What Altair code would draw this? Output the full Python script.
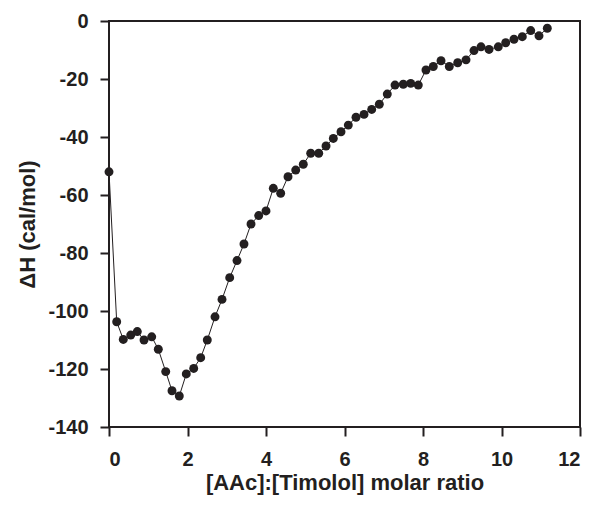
import altair as alt
import pandas as pd

ratio = [0.0, 0.196, 0.364, 0.553, 0.721, 0.892, 1.088, 1.256, 1.445, 1.605,
         1.791, 1.969, 2.158, 2.336, 2.504, 2.701, 2.879, 3.075, 3.261, 3.439,
         3.618, 3.814, 4.0, 4.186, 4.374, 4.561, 4.757, 4.950, 5.139, 5.343,
         5.529, 5.715, 5.911, 6.097, 6.293, 6.497, 6.693, 6.887, 7.090, 7.287,
         7.498, 7.687, 7.880, 8.076, 8.262, 8.459, 8.670, 8.884, 9.096, 9.299,
         9.478, 9.682, 9.918, 10.107, 10.318, 10.530, 10.744, 10.955, 11.167]
dH = [-52.0, -103.7, -109.8, -108.3, -107.1, -110.0, -108.9, -113.2, -120.9, -127.5,
      -129.3, -121.7, -119.8, -116.1, -110.0, -102.0, -96.0, -88.5, -82.6, -76.9,
      -70.0, -67.1, -65.5, -57.7, -59.4, -53.7, -51.4, -49.4, -45.6, -45.6,
      -43.1, -40.5, -38.2, -35.9, -33.2, -32.2, -30.5, -28.7, -25.2, -22.1,
      -21.8, -21.5, -22.1, -16.9, -15.7, -13.7, -15.7, -14.4, -13.4, -10.2,
      -8.9, -9.8, -8.9, -7.5, -6.3, -5.4, -3.3, -5.1, -2.5]

x_ticks = [0, 2, 4, 6, 8, 10, 12]
y_ticks = [0, -20, -40, -60, -80, -100, -120, -140]

df = pd.DataFrame({"ratio": ratio, "dH": dH})

FONT = "Liberation Sans"
INK = "#231f20"

x = alt.X("ratio:Q", scale=alt.Scale(domain=[0, 12], nice=False, zero=False),
          axis=alt.Axis(values=x_ticks, title="[AAc]:[Timolol] molar ratio",
                        grid=False, tickSize=9, tickWidth=2, tickColor=INK,
                        domain=False, labelPadding=13, titlePadding=3,
                        labelFontSize=20, titleFontSize=22, labelFont=FONT, titleFont=FONT,
                        labelFontWeight="bold", titleFontWeight="bold",
                        labelColor=INK, titleColor=INK,
                        labelExpr="datum.value + ''"))
y = alt.Y("dH:Q", scale=alt.Scale(domain=[-140, 0], nice=False, zero=False),
          axis=alt.Axis(values=y_ticks, title="ΔH (cal/mol)",
                        grid=False, tickSize=9, tickWidth=2, tickColor=INK,
                        domain=False, labelPadding=12, titlePadding=8,
                        labelFontSize=20, titleFontSize=22, labelFont=FONT, titleFont=FONT,
                        labelFontWeight="bold", titleFontWeight="bold",
                        labelColor=INK, titleColor=INK,
                        labelExpr="datum.value + ''"))

base = alt.Chart(df)
line = base.mark_line(color=INK, strokeWidth=1).encode(x=x, y=y)
pts = base.mark_point(filled=True, color=INK, size=80, opacity=1).encode(x=x, y=y)

chart = (line + pts).properties(
    width=471, height=406,
    autosize=alt.AutoSizeParams(type="none"),
    padding={"left": 101, "top": 13, "right": 8, "bottom": 74},
).configure_view(stroke=INK, strokeWidth=2)

chart.save("out.html", embed_options={"renderer": "svg", "actions": False})
